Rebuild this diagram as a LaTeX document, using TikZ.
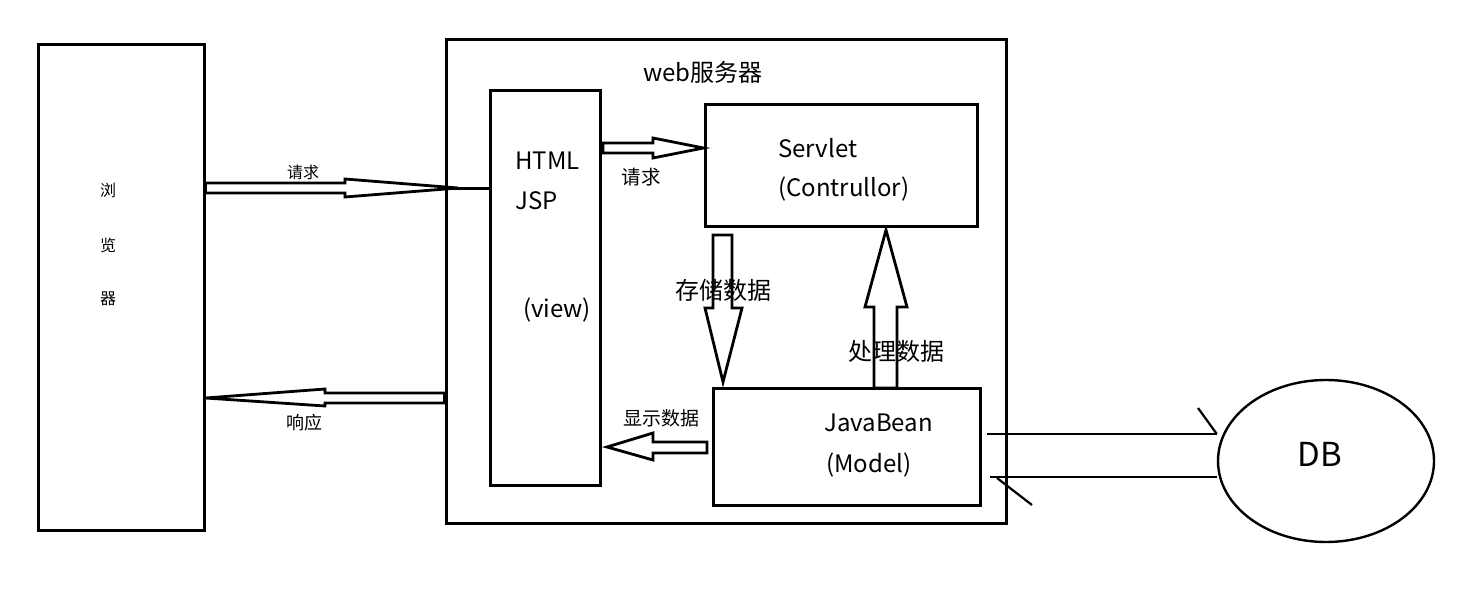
\documentclass[tikz,border=0pt]{standalone}
\usepackage{fontspec}
\setmainfont{Noto Sans CJK SC}
\usetikzlibrary{calc,shapes.geometric}
\tikzset{
  box/.style={draw, line width=3pt, inner sep=0pt},
  blk/.style={draw, line width=2.8pt, fill=white, line join=miter},
  lbl/.style={inner sep=0pt, font=\fontsize{24}{28}\selectfont},
  small/.style={inner sep=0pt, font=\fontsize{17}{20}\selectfont},
  brw/.style={inner sep=0pt, font=\fontsize{16}{16}\selectfont},
  thinl/.style={line width=2.2pt},
}
\begin{document}
\begin{tikzpicture}[x=1pt,y=-1pt]
\useasboundingbox (0,0) rectangle (1479,609);
% boxes
\node[box, minimum width=166pt, minimum height=485pt] (browser) at (121,287.5) {};
\node[box, minimum width=560pt, minimum height=483pt] (web) at (726,281.5) {};
\node[box, minimum width=110pt, minimum height=394pt] (jsp) at (545,288) {};
\node[box, minimum width=272pt, minimum height=122pt] (servlet) at (841,166) {};
\node[box, minimum width=267pt, minimum height=117pt] (bean) at (846.5,446.5) {};
\node[draw, ellipse, line width=2.4pt, minimum width=216pt, minimum height=162pt, inner sep=0pt] (db) at (1326,461) {};
% texts
\node[brw] (b1) at (108,190) {浏};
\node[brw] (b2) at (108,245) {览};
\node[brw] (b3) at (108,299) {器};
\node[lbl] (webl) at (703,72) {web服务器};
\node[lbl, anchor=west] (html) at (515,161) {HTML};
\node[lbl, anchor=west] (jspl) at (515,201) {JSP};
\node[lbl] (view) at (557,310) {(view)};
\node[lbl, anchor=west] (sv1) at (778,148) {Servlet};
\node[lbl, anchor=west] (sv2) at (778,189) {(Contrullor)};
\node[lbl, anchor=west] (jb1) at (824,423) {JavaBean};
\node[lbl, anchor=west] (jb2) at (826,465) {(Model)};
\node[inner sep=0pt, font=\fontsize{33}{36}\selectfont] (dbl) at (1320,454) {DB};
% request arrow browser -> jsp
\draw[line width=3pt] (446,189) -- (jsp.west |- 0,189);
\draw[blk] (browser.east |- 0,183) -- (345,183) -- (345,179) -- (458,188) -- (345,197) -- (345,193) -- (browser.east |- 0,193) -- cycle;
\node[small, font=\fontsize{16}{20}\selectfont] (req1) at (303,172) {请求};
% response arrow jsp -> browser
\draw[blk] (web.west |- 0,393) -- (325,393) -- (325,389) -- (browser.east |- 0,398) -- (325,406) -- (325,403) -- (web.west |- 0,403) -- cycle;
\node[small, font=\fontsize{18}{20}\selectfont] (resp) at (304,423) {响应};
% small request arrow jsp -> servlet
\draw[blk] (603,143) -- (653,143) -- (653,138) -- (servlet.west |- 0,148) -- (653,158) -- (653,153) -- (603,153) -- cycle;
\node[small, font=\fontsize{19.5}{22}\selectfont] (req2) at (641,177) {请求};
% store data down arrow
\draw[blk] (713,235) -- (732,235) -- (732,308) -- (742,308) -- (723,382) -- (705,308) -- (713,308) -- cycle;
\node[lbl] (store) at (723,290) {存储数据};
% process data up arrow
\draw[blk] (874,388) -- (874,307) -- (865,307) -- (886,230) -- (907,307) -- (897,307) -- (897,388) -- cycle;
\node[lbl] (proc) at (896,351) {处理数据};
% show data left arrow
\draw[blk] (707,442) -- (653,442) -- (653,433) -- (607,447) -- (653,460) -- (653,453) -- (707,453) -- cycle;
\node[small, font=\fontsize{19}{22}\selectfont] (show) at (661,418) {显示数据};
% DB connectors
\coordinate (t1) at (987,434);
\coordinate (t2) at (990,477);
\draw[thinl] (t1) -- (db.west |- t1) coordinate (tA);
\draw[thinl] (1198,408) -- (tA);
\draw[thinl] (db.west |- t2) -- (t2);
\draw[thinl] (997,478) -- (1032,505);
\end{tikzpicture}
\end{document}
